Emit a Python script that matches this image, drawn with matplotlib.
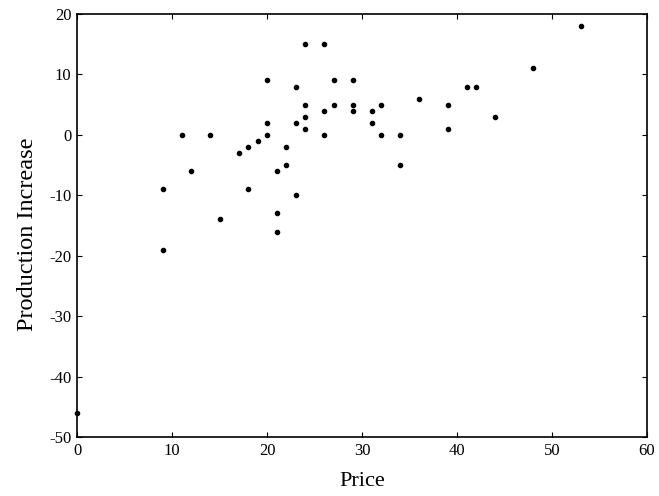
import matplotlib
matplotlib.use("Agg")
import matplotlib.pyplot as plt

# price vs production increase
price = [24, 26, 20, 23, 27, 29, 24, 27, 29, 29, 26, 31, 32, 24, 20, 23, 31, 24,
         11, 14, 20, 26, 32, 19, 18, 22, 17, 22, 12, 21, 9, 18, 23, 21, 15, 21, 9,
         34, 34, 36, 39, 39, 41, 42, 44, 48, 53, 0]
increase = [15, 15, 9, 8, 9, 9, 5, 5, 5, 4, 4, 4, 5, 3, 2, 2, 2, 1,
            0, 0, 0, 0, 0, -1, -2, -2, -3, -5, -6, -6, -9, -9, -10, -13, -14, -16, -19,
            0, -5, 6, 5, 1, 8, 8, 3, 11, 18, -46]

xticks = [0, 10, 20, 30, 40, 50, 60]
yticks = [-50, -40, -30, -20, -10, 0, 10, 20]

plt.rcParams['font.family'] = ['Liberation Serif', 'DejaVu Serif']
plt.rcParams['axes.unicode_minus'] = False

fig = plt.figure(figsize=(6.59, 4.96), dpi=100)
ax = fig.add_axes([77/659, 1 - 437/496, (647 - 77)/659, (437 - 14)/496])

ax.plot(price, increase, 'o', color='black', markersize=3, clip_on=False)

ax.set_xlim(0, 60)
ax.set_ylim(-50, 20)
ax.set_xticks(xticks)
ax.set_yticks(yticks)
ax.tick_params(direction='in', length=3.5, width=0.8, top=True, right=True,
               labelsize=12, pad=4)
for s in ax.spines.values():
    s.set_linewidth(1.2)

ax.set_xlabel('Price', fontsize=16, labelpad=10)
ax.set_ylabel('Production Increase', fontsize=17.5, labelpad=8)
ax.yaxis.label.set_y(0.48)  # scan has the label sitting a bit low

fig.savefig('out.png', dpi=100, facecolor='white')
